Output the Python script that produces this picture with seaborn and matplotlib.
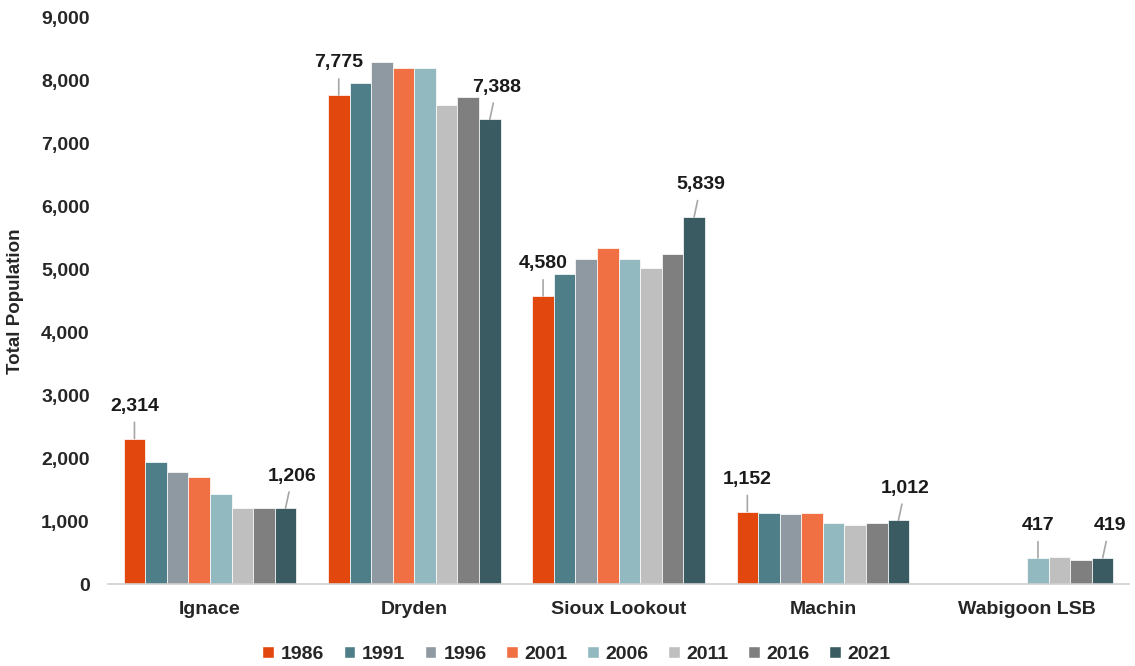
import numpy as np
import pandas as pd
import seaborn as sns
from matplotlib import pyplot as plt
from matplotlib.patches import Patch
from matplotlib.ticker import FuncFormatter

places = ['Ignace', 'Dryden', 'Sioux Lookout', 'Machin', 'Wabigoon LSB']
years = ['1986', '1991', '1996', '2001', '2006', '2011', '2016', '2021']

ignace = [2314, 1933, 1781, 1709, 1430, 1202, 1202, 1206]
dryden = [7775, 7963, 8301, 8205, 8198, 7614, 7749, 7388]
sioux_lookout = [4580, 4926, 5166, 5336, 5162, 5019, 5246, 5839]
machin = [1152, 1126, 1110, 1137, 975, 934, 965, 1012]
wabigoon = [np.nan, np.nan, np.nan, np.nan, 417, 424, 375, 419]

colors = ['#E2470E', '#4E7F88', '#8E99A2', '#F07044',
          '#92B9C0', '#BFBFBF', '#7F7F7F', '#3A5B61']

series = [ignace, dryden, sioux_lookout, machin, wabigoon]
rows = []
for p, vals in zip(places, series):
    for y, v in zip(years, vals):
        rows.append({'Place': p, 'Year': y, 'Population': v})
df = pd.DataFrame(rows)

sns.set_style('white')
plt.rcParams['font.family'] = ['Liberation Sans', 'DejaVu Sans']
plt.rcParams['font.weight'] = 'bold'

fig = plt.figure(figsize=(11.35, 6.66), dpi=100)
ax = fig.add_axes([0.095, 0.123, 0.9, 0.850])

sns.barplot(data=df.dropna(), x='Place', y='Population', hue='Year',
            order=places, hue_order=years, palette=colors, saturation=1,
            width=0.845, gap=0, linewidth=0.5, edgecolor='white',
            legend=False, ax=ax)

ax.set_ylim(0, 9000)
ax.set_xlim(-0.5, len(places) - 0.5)
ax.set_yticks(range(0, 9001, 1000))
ax.yaxis.set_major_formatter(FuncFormatter(lambda v, _: f'{int(v):,}'))
ax.tick_params(axis='y', length=0, pad=13, labelsize=14)
ax.tick_params(axis='x', which='major', length=0, pad=12, labelsize=14)
ax.set_xticks(np.arange(len(places) + 1) - 0.5, minor=True)
ax.tick_params(axis='x', which='minor', length=5, width=1, color='#D0D0D0')
for lab in ax.get_xticklabels() + ax.get_yticklabels():
    lab.set_fontweight('bold')

for s in ['top', 'right', 'left']:
    ax.spines[s].set_visible(False)
ax.spines['bottom'].set_color('#D0D0D0')
ax.spines['bottom'].set_linewidth(1.2)

ax.set_xlabel('')
ax.set_ylabel('Total Population', fontsize=13.5, fontweight='bold', labelpad=12)

# label first available and last year in each group
n = len(years)
step = 0.845 / n
for i, vals in enumerate(series):
    valid = [j for j, v in enumerate(vals) if not np.isnan(v)]
    for j, dx in [(valid[0], 0), (valid[-1], 5)]:
        xc = i - 0.845 / 2 + step * (j + 0.5)
        ax.annotate(f'{int(vals[j]):,}', xy=(xc, vals[j]),
                    xytext=(dx, 17), textcoords='offset points',
                    ha='center', va='bottom', fontsize=14, fontweight='bold',
                    color='#1A1A1A',
                    arrowprops=dict(arrowstyle='-', color='#A6A6A6', lw=1.2,
                                    shrinkA=3, shrinkB=0))

handles = [Patch(facecolor=c, label=y) for c, y in zip(colors, years)]
fig.legend(handles=handles, loc='lower center', bbox_to_anchor=(0.508, -0.022),
           ncol=8, frameon=False, handlelength=0.6, handleheight=0.6,
           handletextpad=0.35, columnspacing=1.0,
           prop={'size': 14, 'weight': 'bold'})

plt.savefig('out.png', dpi=100)
